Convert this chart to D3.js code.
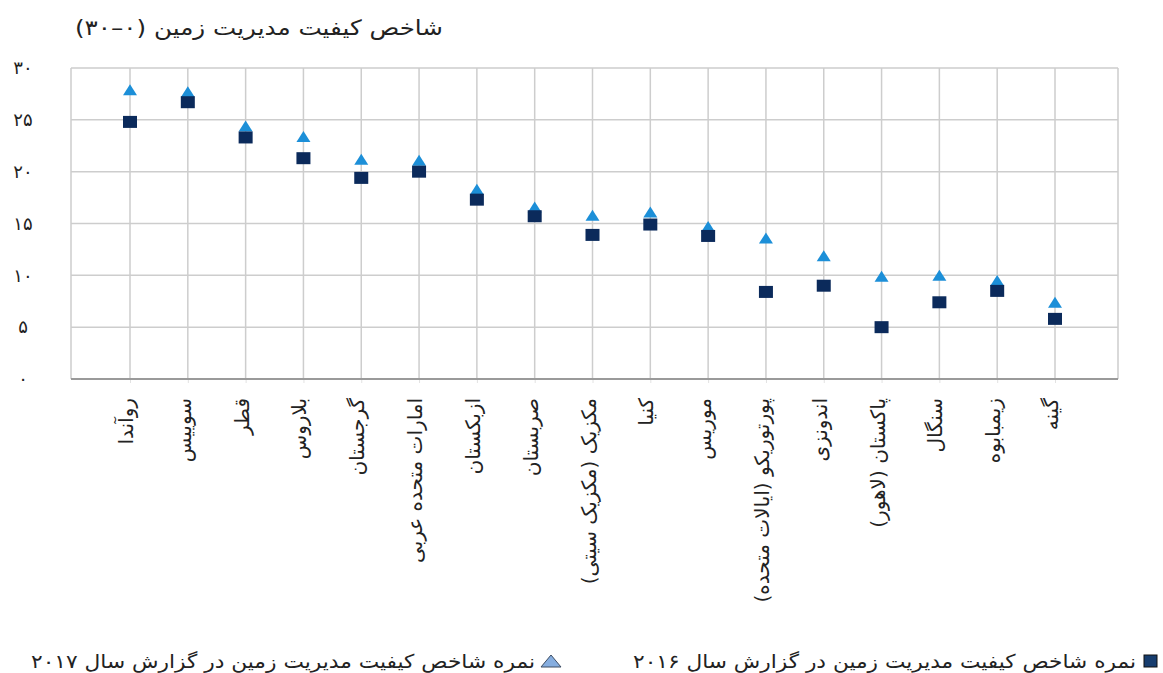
<!DOCTYPE html>
<html lang="fa">
<head>
<meta charset="utf-8">
<script src="https://cdn.jsdelivr.net/npm/d3@7"></script>
<style>
  body { margin: 0; background: #fff; }
  text { font-family: "DejaVu Sans", sans-serif; fill: #222; }
</style>
</head>
<body>
<div id="chart"></div>
<script>
// ============================
// Data
// ============================

const countries = [
  "روآندا", "سوییس", "قطر", "بلاروس", "گرجستان", "امارات متحده عربی",
  "ازبکستان", "صربستان", "مکزیک (مکزیک سیتی)", "کنیا", "موریس",
  "پورتوریکو (ایالات متحده)", "اندونزی", "پاکستان (لاهور)", "سنگال",
  "زیمبابوه", "گینه"
];

// score in the 2016 report (squares)
const score2016 = [24.8, 26.7, 23.3, 21.3, 19.4, 20.0, 17.3, 15.7, 13.9, 14.9, 13.8, 8.4, 9.0, 5.0, 7.4, 8.5, 5.8];
// score in the 2017 report (triangles)
const score2017 = [27.9, 27.7, 24.4, 23.4, 21.2, 21.1, 18.3, 16.6, 15.8, 16.1, 14.7, 13.6, 11.9, 9.9, 10.0, 9.5, 7.4];

const yTicks = [0, 5, 10, 15, 20, 25, 30];

const titleText = "شاخص کیفیت مدیریت زمین (۰–۳۰)";
const legend2016 = "نمره شاخص کیفیت مدیریت زمین در گزارش سال ۲۰۱۶";
const legend2017 = "نمره شاخص کیفیت مدیریت زمین در گزارش سال ۲۰۱۷";

const width = 1163;
const height = 673;

const colorSquare = "#0b2a5b";
const colorTriangle = "#1c8fd8";

// persian digits for tick labels
const faDigits = s => String(s).replace(/\d/g, d => "۰۱۲۳۴۵۶۷۸۹"[d]);

// ============================
// Set up
// ============================

const plot = {left: 71, right: 1118, top: 68, bottom: 379};

const svg = d3.select("#chart").append("svg")
  .attr("width", width)
  .attr("height", height)
  .attr("viewBox", [0, 0, width, height]);

const xscale = d3.scalePoint()
  .domain(countries)
  .range([130, 1055]);

const yscale = d3.scaleLinear()
  .domain([0, 30])
  .range([plot.bottom, plot.top]);

const data = countries.map((c, i) => ({c: c, a: score2016[i], b: score2017[i]}));

// triangle centred on its bounding box
function tri(w, h) {
  const p = d3.path();
  p.moveTo(0, -h / 2);
  p.lineTo(w / 2, h / 2);
  p.lineTo(-w / 2, h / 2);
  p.closePath();
  return p.toString();
}

// ============================
// Grid
// ============================

const grid = svg.append("g")
  .attr("stroke", "#cdcdcd")
  .attr("stroke-width", 1.5);

grid.selectAll(".hgrid")
  .data(yTicks)
  .join("line")
  .attr("class", "hgrid")
  .attr("x1", plot.left).attr("x2", plot.right)
  .attr("y1", d => yscale(d)).attr("y2", d => yscale(d));

grid.selectAll(".vgrid")
  .data(countries)
  .join("line")
  .attr("class", "vgrid")
  .attr("x1", d => xscale(d)).attr("x2", d => xscale(d))
  .attr("y1", plot.top).attr("y2", plot.bottom);

// frame
grid.append("line")
  .attr("x1", plot.left).attr("x2", plot.left)
  .attr("y1", plot.top).attr("y2", plot.bottom);
grid.append("line")
  .attr("x1", plot.right).attr("x2", plot.right)
  .attr("y1", plot.top).attr("y2", plot.bottom);

// x axis
const xAxis = svg.append("g")
  .attr("transform", `translate(0,${plot.bottom})`)
  .call(d3.axisBottom(xscale).tickSize(4).tickFormat(""));
xAxis.select(".domain").remove();
xAxis.selectAll(".tick line").attr("stroke", "#e2e2e2");

svg.append("line")
  .attr("x1", plot.left).attr("x2", plot.right)
  .attr("y1", plot.bottom).attr("y2", plot.bottom)
  .attr("stroke", "#9a9a9a")
  .attr("stroke-width", 2);

// y labels
svg.append("g")
  .selectAll("text")
  .data(yTicks)
  .join("text")
  .attr("x", 23)
  .attr("y", d => yscale(d))
  .attr("dy", "0.35em")
  .attr("text-anchor", "middle")
  .attr("font-size", 18)
  .text(d => faDigits(d));

// x labels, rotated
svg.append("g")
  .selectAll("text")
  .data(countries)
  .join("text")
  .attr("transform", d => `translate(${xscale(d)},398) rotate(-90)`)
  .attr("dy", "0.15em")
  .attr("direction", "rtl")
  .attr("text-anchor", "start")
  .attr("font-size", 20)
  .text(d => d);

// title
svg.append("text")
  .attr("x", 443)
  .attr("y", 35)
  .attr("direction", "rtl")
  .attr("text-anchor", "start")
  .attr("font-size", 21)
  .attr("textLength", 368)
  .attr("lengthAdjust", "spacingAndGlyphs")
  .text(titleText);

// ============================
// Markers
// ============================

svg.append("g")
  .selectAll("path")
  .data(data)
  .join("path")
  .attr("d", tri(14, 11))
  .attr("transform", d => `translate(${xscale(d.c)},${yscale(d.b)})`)
  .attr("fill", colorTriangle);

svg.append("g")
  .selectAll("rect")
  .data(data)
  .join("rect")
  .attr("x", d => xscale(d.c) - 7)
  .attr("y", d => yscale(d.a) - 6)
  .attr("width", 14)
  .attr("height", 12)
  .attr("fill", colorSquare);

// ============================
// Legend
// ============================

const legend = svg.append("g");

legend.append("rect")
  .attr("x", 1144).attr("y", 655)
  .attr("width", 13).attr("height", 12)
  .attr("fill", "#173d6e")
  .attr("stroke", "#111")
  .attr("stroke-width", 1);
legend.append("text")
  .attr("x", 1136).attr("y", 668)
  .attr("direction", "rtl")
  .attr("text-anchor", "start")
  .attr("font-size", 19)
  .attr("textLength", 503)
  .attr("lengthAdjust", "spacingAndGlyphs")
  .text(legend2016);

legend.append("path")
  .attr("d", tri(20, 12))
  .attr("transform", "translate(551,661)")
  .attr("fill", "#86aee0")
  .attr("stroke", "#3d4d63")
  .attr("stroke-width", 1);
legend.append("text")
  .attr("x", 535).attr("y", 668)
  .attr("direction", "rtl")
  .attr("text-anchor", "start")
  .attr("font-size", 19)
  .attr("textLength", 504)
  .attr("lengthAdjust", "spacingAndGlyphs")
  .text(legend2017);
</script>
</body>
</html>
